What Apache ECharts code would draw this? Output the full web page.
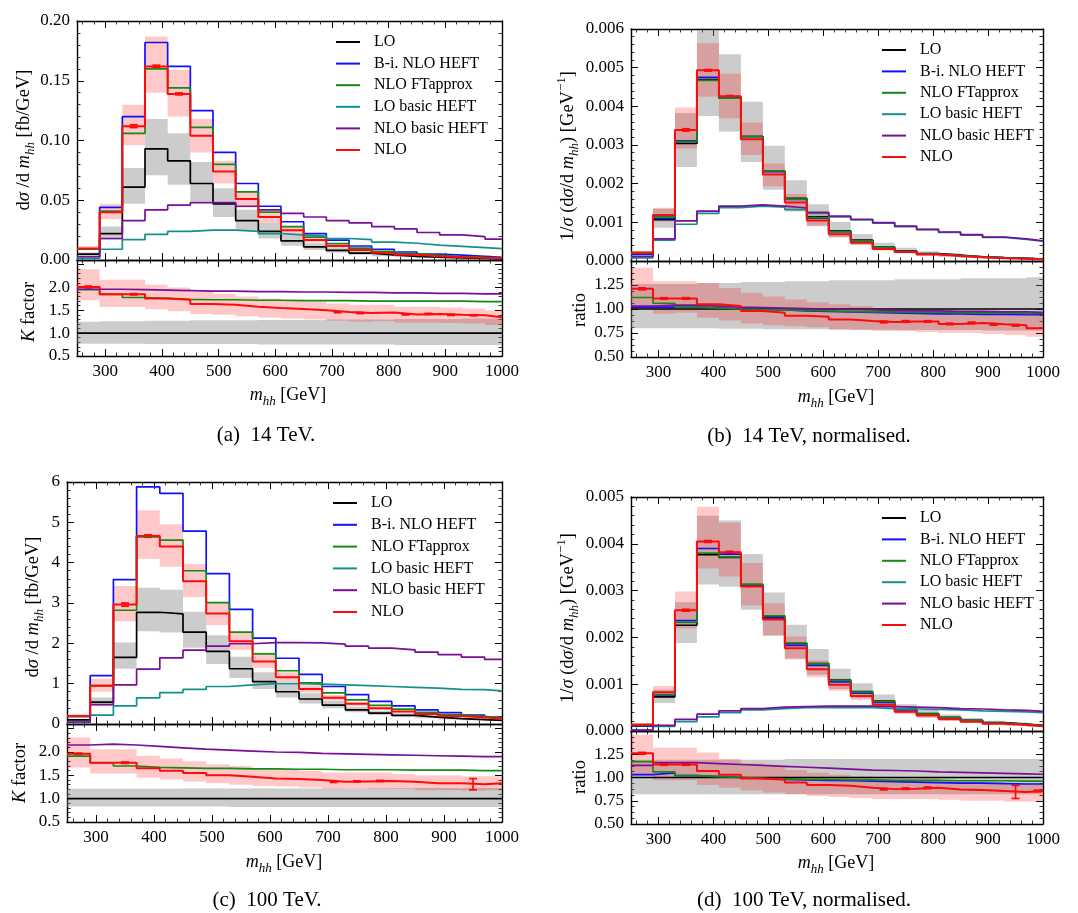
<!DOCTYPE html>
<html><head><meta charset="utf-8">
<script src="https://cdn.jsdelivr.net/npm/echarts@6.0.0/dist/echarts.min.js"></script>
<style>html,body{margin:0;padding:0;background:#fff}#c{width:1078px;height:913px}</style>
</head><body><div id="c"></div>
<script>
// ---- bins ----
const edges   = [250,290,330,370,410,450,490,530,570,610,650,690,730,770,810,850,890,930,970,1000];
const centers = [270,310,350,390,430,470,510,550,590,630,670,710,750,790,830,870,910,950,990];
const names = ['LO','B-i. NLO HEFT','NLO FTapprox','LO basic HEFT','NLO basic HEFT','NLO'];
const ratioOne = [1,1,1,1,1,1,1,1,1,1,1,1,1,1,1,1,1,1,1];

// ---- (a) 14 TeV ----
const a_LO       = [0.005,0.022,0.061,0.093,0.083,0.064,0.047,0.033,0.024,0.016,0.011,0.008,0.0058,0.0042,0.0031,0.0023,0.0017,0.0013,0.0010];
const a_BiHEFT   = [0.009,0.044,0.120,0.182,0.162,0.125,0.090,0.064,0.045,0.032,0.022,0.0167,0.0117,0.0090,0.0067,0.0050,0.0040,0.0030,0.0022];
const a_FT       = [0.009,0.041,0.106,0.160,0.144,0.111,0.080,0.057,0.040,0.028,0.0192,0.0137,0.0099,0.0072,0.0053,0.0039,0.0029,0.0022,0.0017];
const a_LObasic  = [0.0014,0.009,0.017,0.0215,0.024,0.025,0.025,0.024,0.022,0.021,0.020,0.018,0.017,0.015,0.014,0.0125,0.0114,0.0103,0.0095];
const a_NLObasic = [0.0028,0.018,0.033,0.042,0.046,0.048,0.048,0.045,0.042,0.039,0.036,0.033,0.031,0.028,0.026,0.023,0.021,0.0195,0.0175];
const a_NLO      = [0.0097,0.040,0.112,0.162,0.139,0.104,0.074,0.051,0.036,0.025,0.0167,0.0118,0.0084,0.0061,0.0044,0.0032,0.0024,0.0018,0.0014];
const a_NLOerr   = [0,0,0.0012,0.0010,0.0008,0,0,0,0,0,0,0,0,0,0,0,0,0,0];
const a_LOhi     = [0.0063,0.028,0.077,0.118,0.106,0.082,0.060,0.042,0.031,0.021,0.014,0.0104,0.0075,0.0055,0.0041,0.0030,0.0022,0.0017,0.0013];
const a_LOlo     = [0.0039,0.017,0.047,0.071,0.063,0.049,0.036,0.025,0.018,0.012,0.0083,0.0060,0.0044,0.0032,0.0023,0.0017,0.0013,0.0010,0.0007];
const a_NLOhi    = [0.0116,0.047,0.130,0.187,0.159,0.118,0.083,0.057,0.040,0.028,0.0187,0.0132,0.0094,0.0068,0.0049,0.0036,0.0027,0.0020,0.0016];
const a_NLOlo    = [0.0083,0.034,0.096,0.140,0.120,0.090,0.064,0.044,0.031,0.022,0.0147,0.0104,0.0074,0.0054,0.0039,0.0028,0.0021,0.0016,0.0012];
const aK_NLObasic= [1.96,1.96,1.95,1.94,1.93,1.92,1.92,1.91,1.91,1.90,1.90,1.89,1.89,1.88,1.88,1.87,1.87,1.86,1.86];
const aK_FT      = [1.95,1.85,1.78,1.76,1.74,1.73,1.73,1.72,1.72,1.71,1.71,1.71,1.70,1.70,1.70,1.70,1.70,1.69,1.69];
const aK_NLO     = [2.01,1.85,1.85,1.76,1.73,1.64,1.62,1.58,1.55,1.53,1.50,1.46,1.44,1.45,1.41,1.42,1.40,1.39,1.35];
const aK_NLOerr  = [0.02,0,0.015,0,0,0,0,0,0,0,0,0.012,0.012,0,0.012,0.012,0.012,0.012,0];
const aK_NLOhi   = [2.40,2.17,2.17,2.06,2.00,1.90,1.86,1.80,1.76,1.73,1.69,1.65,1.62,1.62,1.58,1.58,1.56,1.54,1.50];
const aK_NLOlo   = [1.72,1.57,1.57,1.52,1.48,1.42,1.40,1.37,1.34,1.32,1.30,1.27,1.25,1.26,1.23,1.23,1.22,1.21,1.18];
const aK_LOhi    = [1.25,1.26,1.26,1.27,1.27,1.28,1.28,1.28,1.29,1.29,1.29,1.30,1.30,1.30,1.31,1.31,1.31,1.32,1.32];
const aK_LOlo    = [0.77,0.77,0.77,0.76,0.76,0.76,0.76,0.76,0.75,0.75,0.75,0.75,0.75,0.75,0.74,0.74,0.74,0.74,0.74];

// ---- (b) 14 TeV normalised ----
const b_LO       = [0.00018,0.00107,0.00304,0.00469,0.00421,0.00322,0.00233,0.00162,0.00114,0.00078,0.00054,0.00036,0.00026,0.00019,0.00015,0.00011,0.000086,0.00007,0.000052];
const b_BiHEFT   = [0.00018,0.00110,0.00311,0.00475,0.00423,0.00322,0.00231,0.00159,0.00111,0.00076,0.00052,0.00035,0.00025,0.00018,0.00014,0.000104,0.000081,0.000066,0.000049];
const b_FT       = [0.00020,0.00114,0.00309,0.00467,0.00421,0.00322,0.00233,0.00160,0.00112,0.00076,0.00052,0.00035,0.00025,0.00018,0.00014,0.000106,0.000083,0.000067,0.00005];
const b_LObasic  = [0.00008,0.00054,0.00095,0.00123,0.00138,0.00142,0.00139,0.00133,0.00123,0.00114,0.00106,0.00098,0.00089,0.00081,0.00074,0.00067,0.00061,0.00056,0.00051];
const b_NLObasic = [0.00012,0.00057,0.00104,0.00129,0.00142,0.00145,0.00142,0.00137,0.00126,0.00116,0.00108,0.00099,0.00090,0.00082,0.00075,0.00068,0.00062,0.00057,0.00052];
const b_NLO      = [0.00022,0.00119,0.00339,0.00493,0.00426,0.00315,0.00224,0.00151,0.00105,0.00069,0.00047,0.00031,0.00023,0.000165,0.000127,0.000094,0.000072,0.000058,0.000042];
const b_NLOerr   = [0,0,0.00003,0.00002,0.00002,0,0,0,0,0,0,0,0,0,0,0,0,0,0];
const b_LOhi     = [0.00023,0.00135,0.00383,0.00596,0.00535,0.00412,0.00298,0.00209,0.00147,0.00101,0.0007,0.00047,0.00034,0.00025,0.0002,0.000145,0.000114,0.000092,0.000069];
const b_LOlo     = [0.000144,0.00086,0.00243,0.00375,0.00335,0.00256,0.00184,0.00128,0.0009,0.00061,0.00042,0.00028,0.0002,0.000148,0.000117,0.000086,0.000067,0.000054,0.00004];
const b_NLOhi    = [0.000257,0.00138,0.00397,0.00563,0.00484,0.00358,0.00252,0.00173,0.0012,0.0008,0.00055,0.00036,0.00026,0.000188,0.000147,0.000108,0.000083,0.000067,0.000049];
const b_NLOlo    = [0.00018,0.00102,0.00291,0.00425,0.00369,0.00274,0.00193,0.00133,0.00092,0.00062,0.00042,0.00028,0.0002,0.000144,0.000113,0.000083,0.000064,0.000051,0.000037];
const bR_BiHEFT  = [1.02,1.02,1.02,1.01,1.00,0.995,0.99,0.98,0.975,0.97,0.965,0.96,0.955,0.95,0.95,0.945,0.945,0.94,0.94];
const bR_FT      = [1.12,1.06,1.02,1.01,1.00,0.995,0.99,0.985,0.98,0.975,0.97,0.97,0.965,0.965,0.96,0.96,0.96,0.955,0.955];
const bR_NLObasic= [1.03,1.04,1.04,1.03,1.02,1.015,1.01,1.005,1.00,0.995,0.99,0.985,0.98,0.98,0.975,0.975,0.97,0.97,0.965];
const bR_NLO     = [1.21,1.11,1.11,1.05,1.03,0.98,0.96,0.93,0.92,0.89,0.875,0.865,0.87,0.87,0.845,0.855,0.84,0.83,0.80];
const bR_NLOerr  = [0.01,0.008,0.008,0,0,0,0,0,0,0,0,0.008,0.008,0.008,0.008,0.008,0.008,0.008,0];
const bR_NLOhi   = [1.43,1.29,1.29,1.27,1.22,1.17,1.13,1.10,1.07,1.05,1.03,1.01,1.00,0.99,0.98,0.98,0.97,0.96,0.95];
const bR_NLOlo   = [1.00,0.95,0.96,0.91,0.88,0.85,0.83,0.82,0.81,0.79,0.78,0.77,0.77,0.76,0.75,0.75,0.74,0.73,0.71];
const bR_LOhi    = [1.26,1.26,1.26,1.27,1.27,1.28,1.28,1.29,1.29,1.30,1.30,1.30,1.31,1.31,1.31,1.32,1.32,1.32,1.33];
const bR_LOlo    = [0.80,0.80,0.80,0.80,0.795,0.795,0.79,0.79,0.79,0.785,0.785,0.785,0.78,0.78,0.78,0.78,0.775,0.775,0.775];

// ---- (c) 100 TeV ----
const c_LO       = [0.10,0.54,1.65,2.77,2.73,2.28,1.80,1.37,1.05,0.80,0.62,0.47,0.35,0.27,0.215,0.17,0.135,0.11,0.09];
const c_BiHEFT   = [0.19,1.20,3.58,5.88,5.72,4.78,3.73,2.84,2.13,1.63,1.23,0.93,0.73,0.56,0.45,0.35,0.28,0.22,0.17];
const c_FT       = [0.19,0.95,2.82,4.64,4.56,3.80,3.01,2.28,1.74,1.32,1.02,0.77,0.60,0.46,0.37,0.29,0.23,0.19,0.15];
const c_LObasic  = [0.04,0.22,0.45,0.65,0.78,0.86,0.93,0.97,1.00,1.00,0.99,0.97,0.95,0.93,0.91,0.89,0.86,0.85,0.82];
const c_NLObasic = [0.05,0.48,0.97,1.36,1.64,1.83,1.93,1.99,2.02,2.02,2.01,1.98,1.93,1.88,1.84,1.78,1.72,1.66,1.60];
const c_NLO      = [0.20,0.95,2.96,4.66,4.40,3.54,2.74,2.05,1.55,1.16,0.87,0.65,0.50,0.39,0.31,0.25,0.20,0.16,0.13];
const c_NLOerr   = [0,0,0.04,0.03,0,0,0,0,0,0,0,0,0,0,0,0,0,0,0];
const c_LOhi     = [0.122,0.66,2.02,3.38,3.33,2.78,2.20,1.67,1.28,0.98,0.76,0.57,0.43,0.33,0.26,0.21,0.165,0.134,0.11];
const c_LOlo     = [0.083,0.45,1.37,2.30,2.27,1.89,1.49,1.14,0.87,0.66,0.51,0.39,0.29,0.22,0.18,0.14,0.112,0.091,0.075];
const c_NLOhi    = [0.235,1.12,3.42,5.30,4.95,3.97,3.02,2.26,1.71,1.28,0.96,0.72,0.55,0.43,0.34,0.28,0.22,0.18,0.145];
const c_NLOlo    = [0.165,0.80,2.55,4.10,3.90,3.15,2.45,1.84,1.39,1.04,0.78,0.58,0.45,0.35,0.28,0.22,0.18,0.14,0.115];
const cK_NLObasic= [2.15,2.17,2.15,2.12,2.09,2.06,2.04,2.02,2.00,1.99,1.97,1.96,1.95,1.94,1.93,1.92,1.91,1.90,1.90];
const cK_FT      = [1.91,1.77,1.70,1.67,1.66,1.65,1.65,1.64,1.64,1.63,1.63,1.62,1.62,1.62,1.61,1.61,1.61,1.60,1.60];
const cK_NLO     = [1.96,1.77,1.77,1.65,1.60,1.55,1.50,1.47,1.43,1.42,1.40,1.36,1.37,1.38,1.36,1.33,1.33,1.31,1.33];
const cK_NLOerr  = [0.015,0,0.015,0,0,0,0,0,0,0,0,0.012,0.012,0.012,0,0,0,0.12,0];
const cK_NLOhi   = [2.31,2.06,2.06,1.92,1.86,1.80,1.74,1.70,1.65,1.63,1.60,1.56,1.56,1.56,1.53,1.50,1.50,1.48,1.48];
const cK_NLOlo   = [1.67,1.54,1.54,1.45,1.41,1.37,1.33,1.30,1.27,1.26,1.24,1.21,1.22,1.22,1.21,1.18,1.18,1.17,1.18];
const cK_LOhi    = [1.21,1.21,1.21,1.21,1.21,1.22,1.22,1.22,1.22,1.22,1.22,1.22,1.22,1.23,1.23,1.23,1.23,1.23,1.23];
const cK_LOlo    = [0.83,0.83,0.83,0.83,0.83,0.83,0.83,0.82,0.82,0.82,0.82,0.82,0.82,0.82,0.82,0.82,0.82,0.82,0.82];

// ---- (d) 100 TeV normalised ----
const d_LO       = [0.00011,0.00073,0.00226,0.00377,0.00371,0.00312,0.00244,0.00187,0.00144,0.00109,0.00084,0.00064,0.00047,0.00037,0.00029,0.00023,0.00018,0.00015,0.00012];
const d_BiHEFT   = [0.000113,0.00077,0.00236,0.00390,0.00378,0.00312,0.00241,0.00183,0.00140,0.00105,0.00081,0.00061,0.00045,0.00035,0.00027,0.00022,0.00017,0.00014,0.00011];
const d_FT       = [0.00013,0.00078,0.00232,0.00380,0.00372,0.00314,0.00246,0.00188,0.00144,0.00108,0.00083,0.00063,0.00046,0.00036,0.00028,0.00022,0.00017,0.00014,0.000115];
const d_LObasic  = [0.00002,0.00010,0.00020,0.00030,0.00039,0.00045,0.00048,0.00050,0.00050,0.00050,0.00050,0.00048,0.00047,0.00046,0.00045,0.00043,0.00042,0.00041,0.00039];
const d_NLObasic = [0.00002,0.00012,0.00025,0.00036,0.00043,0.00048,0.00051,0.00052,0.00053,0.00053,0.00053,0.00052,0.00051,0.00050,0.00048,0.00047,0.00045,0.00044,0.00042];
const d_NLO      = [0.00014,0.00083,0.00258,0.00405,0.00382,0.00309,0.00238,0.00177,0.00132,0.00099,0.00075,0.00056,0.00041,0.00033,0.00025,0.00020,0.000154,0.000127,0.000103];
const d_NLOerr   = [0,0,0.00002,0.00002,0.00002,0,0,0,0,0,0,0,0,0,0,0,0,0,0];
const d_LOhi     = [0.000133,0.00088,0.00275,0.00460,0.00450,0.00378,0.00296,0.00227,0.00175,0.00133,0.00102,0.00078,0.00057,0.00045,0.00035,0.00028,0.00022,0.00018,0.000145];
const d_LOlo     = [0.00009,0.00060,0.00188,0.00313,0.00308,0.00259,0.00203,0.00155,0.00120,0.00090,0.00070,0.00053,0.00039,0.00031,0.00024,0.00019,0.00015,0.000125,0.00010];
const d_NLOhi    = [0.00016,0.00096,0.00298,0.00479,0.00445,0.00359,0.00273,0.00202,0.00151,0.00112,0.00085,0.00063,0.00047,0.00037,0.00028,0.00022,0.00017,0.00014,0.000113];
const d_NLOlo    = [0.000112,0.00071,0.00219,0.00347,0.00330,0.00268,0.00205,0.00153,0.00115,0.00086,0.00066,0.00049,0.00036,0.00028,0.00022,0.00017,0.000135,0.00011,0.000089];
const dR_BiHEFT  = [1.03,1.05,1.02,1.01,1.00,0.99,0.98,0.975,0.97,0.965,0.96,0.955,0.95,0.945,0.94,0.94,0.935,0.93,0.93];
const dR_FT      = [1.17,1.06,1.02,1.01,1.00,0.99,0.985,0.98,0.98,0.975,0.975,0.97,0.97,0.97,0.965,0.965,0.965,0.96,0.96];
const dR_NLObasic= [1.13,1.16,1.16,1.15,1.14,1.13,1.12,1.11,1.10,1.09,1.08,1.075,1.07,1.06,1.055,1.05,1.045,1.04,1.035];
const dR_NLO     = [1.26,1.14,1.14,1.07,1.03,0.99,0.975,0.945,0.92,0.91,0.89,0.875,0.88,0.89,0.87,0.865,0.855,0.845,0.855];
const dR_NLOerr  = [0.01,0.008,0.008,0,0,0,0,0,0,0,0,0.008,0.008,0.008,0,0,0,0.07,0.008];
const dR_NLOhi   = [1.46,1.32,1.32,1.27,1.20,1.15,1.12,1.08,1.05,1.03,1.01,0.99,0.99,0.99,0.97,0.96,0.95,0.94,0.94];
const dR_NLOlo   = [1.02,0.97,0.97,0.92,0.89,0.86,0.84,0.82,0.80,0.79,0.78,0.77,0.77,0.77,0.76,0.75,0.75,0.74,0.74];
const dR_LOhi    = [1.19,1.19,1.19,1.19,1.19,1.19,1.19,1.20,1.20,1.20,1.20,1.20,1.20,1.20,1.20,1.20,1.20,1.20,1.20];
const dR_LOlo    = [0.82,0.82,0.82,0.82,0.82,0.82,0.82,0.82,0.82,0.82,0.82,0.82,0.82,0.82,0.82,0.82,0.82,0.82,0.82];

// ---- styling ----
const FONT = 'Liberation Serif';
const C = {LO:'#000000', BI:'#1010ff', FT:'#138a13', LOB:'#148f8f', NLOB:'#7a0e9a', NLO:'#ff0a0a'};
const GREY = 'rgba(128,128,128,0.40)';
const PINK = 'rgba(255,0,0,0.21)';

const option = {animation:false, backgroundColor:'#ffffff', grid:[], xAxis:[], yAxis:[], series:[], legend:[], graphic:{elements:[]}};

function addPanel(rect, y, showX) {
  const gi = option.grid.length;
  option.grid.push({left:rect[0], top:rect[1], width:rect[2], height:rect[3], show:false});
  const xi = option.xAxis.length, yi = option.yAxis.length;
  const tick = {show:true, inside:true, length:7, lineStyle:{color:'#000', width:1}};
  const minor = n => ({show:true, splitNumber:n, length:3.5, lineStyle:{color:'#000', width:0.8}});
  const line = {show:true, onZero:false, lineStyle:{color:'#000', width:1.4}};
  const lab = {fontFamily:FONT, fontSize:17, color:'#000'};
  ['bottom','top'].forEach((pos,k) => option.xAxis.push({type:'value', gridIndex:gi, position:pos, min:250, max:1000, splitNumber:8,
    axisLine:line, axisTick:tick, minorTick:minor(5), splitLine:{show:false}, minorSplitLine:{show:false},
    axisLabel:Object.assign({show:showX && k===0, margin:7, formatter:v => (v % 100 === 0 ? String(v) : '')}, lab)}));
  ['left','right'].forEach((pos,k) => option.yAxis.push({type:'value', gridIndex:gi, position:pos, min:y.min, max:y.max, interval:y.step,
    axisLine:line, axisTick:tick, minorTick:minor(y.minor), splitLine:{show:false}, minorSplitLine:{show:false},
    axisLabel:Object.assign({show:k===0, margin:7, formatter:y.fmt}, lab)}));
  return {xi, yi};
}
function stepData(vals){ const d = vals.map((v,i) => [edges[i], v]); d.push([edges[edges.length-1], vals[vals.length-1]]); return d; }
function lineS(P, name, vals, color, w){
  option.series.push({type:'line', name, xAxisIndex:P.xi, yAxisIndex:P.yi, data:stepData(vals), step:'end', symbol:'none', showSymbol:false,
    lineStyle:{color, width:w||1.7}, itemStyle:{color}, emphasis:{disabled:true}, silent:true, animation:false});
}
function band(P, lo, hi, color){
  option.series.push({type:'custom', xAxisIndex:P.xi, yAxisIndex:P.yi, silent:true, animation:false, clip:true,
    data:[[edges[0], lo[0]]],
    renderItem:(params, api) => {
      const pts = [];
      for (let i=0;i<lo.length;i++){ pts.push(api.coord([edges[i],hi[i]])); pts.push(api.coord([edges[i+1],hi[i]])); }
      for (let i=lo.length-1;i>=0;i--){ pts.push(api.coord([edges[i+1],lo[i]])); pts.push(api.coord([edges[i],lo[i]])); }
      return {type:'polygon', shape:{points:pts}, style:{fill:color}};
    }});
}
function errs(P, vals, err, color){
  option.series.push({type:'custom', xAxisIndex:P.xi, yAxisIndex:P.yi, silent:true, animation:false,
    data: centers.map((c,i) => [c, vals[i], err[i]]).filter(d => d[2] > 0),
    renderItem:(params, api) => {
      const x = api.value(0), v = api.value(1), e = api.value(2);
      const t = api.coord([x, v+e]), b = api.coord([x, v-e]); const w = 4;
      const st = {stroke:color, lineWidth:1.7};
      return {type:'group', children:[
        {type:'line', shape:{x1:t[0],y1:t[1],x2:b[0],y2:b[1]}, style:st},
        {type:'line', shape:{x1:t[0]-w,y1:t[1],x2:t[0]+w,y2:t[1]}, style:st},
        {type:'line', shape:{x1:b[0]-w,y1:b[1],x2:b[0]+w,y2:b[1]}, style:st}]};
    }});
}
function mainPanel(P, LOlo, LOhi, NLOlo, NLOhi, LO, BI, FT, LOB, NLOB, NLO, err){
  band(P, LOlo, LOhi, GREY); band(P, NLOlo, NLOhi, PINK);
  lineS(P, names[0], LO, C.LO); lineS(P, names[1], BI, C.BI); lineS(P, names[2], FT, C.FT);
  lineS(P, names[3], LOB, C.LOB); lineS(P, names[4], NLOB, C.NLOB); lineS(P, names[5], NLO, C.NLO, 2);
  errs(P, NLO, err, C.NLO);
}
function legend(left, top, gap){
  option.legend.push({data:names, left, top, orient:'vertical', padding:0, icon:'rect', itemWidth:24, itemHeight:2, itemGap:gap, selectedMode:false,
    textStyle:{fontFamily:FONT, fontSize:16, color:'#000', lineHeight:14, padding:[0,0,0,9]}});
}
const RICH = s => ({
  r:{fontFamily:FONT, fontSize:s, lineHeight:s+8, verticalAlign:'middle', fill:'#000'},
  i:{fontFamily:FONT, fontSize:s, fontStyle:'italic', lineHeight:s+8, verticalAlign:'middle', fill:'#000'},
  s:{fontFamily:FONT, fontSize:Math.round(s*0.7), fontStyle:'italic', lineHeight:Math.round(s*0.75), verticalAlign:'bottom', fill:'#000'},
  p:{fontFamily:FONT, fontSize:Math.round(s*0.7), lineHeight:Math.round(s*0.85), verticalAlign:'top', fill:'#000'}
});
function T(x, y, text, size, rot){
  option.graphic.elements.push({type:'text', x, y, rotation: rot ? Math.PI/2 : 0, silent:true,
    style:{text, fill:'#000', fontFamily:FONT, fontSize:size, align:'center', verticalAlign:'middle', rich:RICH(size)}});
}

const fmtK = v => (v > 2.05 ? '' : v.toFixed(1));
const fmtR = v => (v > 1.3 ? '' : v.toFixed(2));

// (a)
const A  = addPanel([77,21,425,239], {min:0,max:0.2,step:0.05,minor:5,fmt:v=>v.toFixed(2)}, false);
mainPanel(A, a_LOlo, a_LOhi, a_NLOlo, a_NLOhi, a_LO, a_BiHEFT, a_FT, a_LObasic, a_NLObasic, a_NLO, a_NLOerr);
const AR = addPanel([77,260,425,96], {min:0.5,max:2.6,step:0.5,minor:5,fmt:fmtK}, true);
band(AR, aK_LOlo, aK_LOhi, GREY); band(AR, aK_NLOlo, aK_NLOhi, PINK);
lineS(AR, names[0], ratioOne, C.LO); lineS(AR, names[2], aK_FT, C.FT); lineS(AR, names[4], aK_NLObasic, C.NLOB); lineS(AR, names[5], aK_NLO, C.NLO, 2);
errs(AR, aK_NLO, aK_NLOerr, C.NLO);

// (b)
const B  = addPanel([631,29,412,232], {min:0,max:0.006,step:0.001,minor:5,fmt:v=>v.toFixed(3)}, false);
mainPanel(B, b_LOlo, b_LOhi, b_NLOlo, b_NLOhi, b_LO, b_BiHEFT, b_FT, b_LObasic, b_NLObasic, b_NLO, b_NLOerr);
const BR = addPanel([631,261,412,96], {min:0.5,max:1.5,step:0.25,minor:4,fmt:fmtR}, true);
band(BR, bR_LOlo, bR_LOhi, GREY); band(BR, bR_NLOlo, bR_NLOhi, PINK);
lineS(BR, names[0], ratioOne, C.LO); lineS(BR, names[1], bR_BiHEFT, C.BI); lineS(BR, names[2], bR_FT, C.FT);
lineS(BR, names[4], bR_NLObasic, C.NLOB); lineS(BR, names[5], bR_NLO, C.NLO, 2);
errs(BR, bR_NLO, bR_NLOerr, C.NLO);

// (c)
const Cc = addPanel([67,482,435,242], {min:0,max:6,step:1,minor:5,fmt:v=>String(Math.round(v))}, false);
mainPanel(Cc, c_LOlo, c_LOhi, c_NLOlo, c_NLOhi, c_LO, c_BiHEFT, c_FT, c_LObasic, c_NLObasic, c_NLO, c_NLOerr);
const CR = addPanel([67,724,435,98], {min:0.5,max:2.6,step:0.5,minor:5,fmt:fmtK}, true);
band(CR, cK_LOlo, cK_LOhi, GREY); band(CR, cK_NLOlo, cK_NLOhi, PINK);
lineS(CR, names[0], ratioOne, C.LO); lineS(CR, names[2], cK_FT, C.FT); lineS(CR, names[4], cK_NLObasic, C.NLOB); lineS(CR, names[5], cK_NLO, C.NLO, 2);
errs(CR, cK_NLO, cK_NLOerr, C.NLO);

// (d)
const D  = addPanel([631,497,412,234], {min:0,max:0.005,step:0.001,minor:5,fmt:v=>v.toFixed(3)}, false);
mainPanel(D, d_LOlo, d_LOhi, d_NLOlo, d_NLOhi, d_LO, d_BiHEFT, d_FT, d_LObasic, d_NLObasic, d_NLO, d_NLOerr);
const DR = addPanel([631,731,412,93], {min:0.5,max:1.5,step:0.25,minor:4,fmt:fmtR}, true);
band(DR, dR_LOlo, dR_LOhi, GREY); band(DR, dR_NLOlo, dR_NLOhi, PINK);
lineS(DR, names[0], ratioOne, C.LO); lineS(DR, names[1], dR_BiHEFT, C.BI); lineS(DR, names[2], dR_FT, C.FT);
lineS(DR, names[4], dR_NLObasic, C.NLOB); lineS(DR, names[5], dR_NLO, C.NLO, 2);
errs(DR, dR_NLO, dR_NLOerr, C.NLO);

// legends
legend(336, 34, 5.6);
legend(882, 42, 5.4);
legend(333, 495, 5.8);
legend(882, 510, 5.4);

// axis titles and captions
const yMain = '{r|d}{i|σ}{r| /d }{i|m}{s|hh}{r| [fb/GeV]}';
const yNorm = '{r|1/}{i|σ}{r| (d}{i|σ}{r|/d }{i|m}{s|hh}{r|) [GeV}{p|−1}{r|]}';
const yK = '{i|K}{r| factor}';
const xT = '{i|m}{s|hh}{r| [GeV]}';
T(24, 140, yMain, 18.5, true);  T(29, 312, yK, 18.5, true);
T(568, 156, yNorm, 18.5, true); T(580, 310, '{r|ratio}', 18.5, true);
T(33, 607, yMain, 18.5, true);  T(20, 773, yK, 18.5, true);
T(568, 618, yNorm, 18.5, true); T(580, 777, '{r|ratio}', 18.5, true);
T(288, 395, xT, 18); T(836, 397, xT, 18); T(284, 862, xT, 18); T(836, 863, xT, 18);
T(266, 435, '{r|(a)  14 TeV.}', 21); T(809, 436, '{r|(b)  14 TeV, normalised.}', 21);
T(267, 900, '{r|(c)  100 TeV.}', 21); T(804, 900, '{r|(d)  100 TeV, normalised.}', 21);

const chart = echarts.init(document.getElementById('c'), null, {renderer:'canvas'});
chart.setOption(option);
</script>
</body></html>
